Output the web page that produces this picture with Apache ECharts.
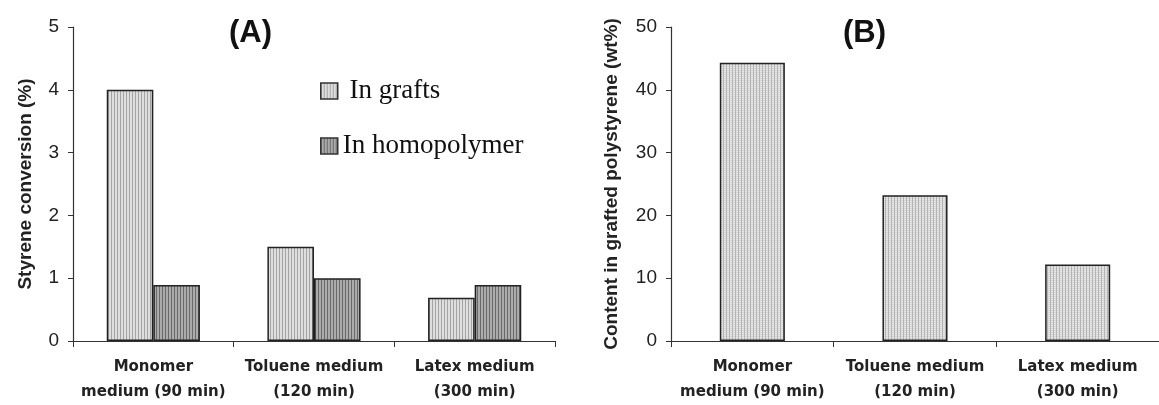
<!DOCTYPE html>
<html>
<head>
<meta charset="utf-8">
<script src="https://cdn.jsdelivr.net/npm/echarts@6/dist/echarts.min.js"></script>
<style>
html,body{margin:0;padding:0;background:#fff;}
#chart{width:1159px;height:405px;}
</style>
</head>
<body>
<div id="chart"></div>
<script>
// ---- data ----
const categories = ['Monomer\nmedium (90 min)', 'Toluene medium\n(120 min)', 'Latex medium\n(300 min)'];
const seriesNames = ['In grafts', 'In homopolymer'];
const graftsConversion = [4.0, 1.5, 0.69];
const homopolymerConversion = [0.89, 1.0, 0.89];
const graftedContent = [44.3, 23.2, 12.2];
const yTicksA = [0, 1, 2, 3, 4, 5];
const yTicksB = [0, 10, 20, 30, 40, 50];
const titles = ['(A)', '(B)'];
const yNames = ['Styrene conversion (%)', 'Content in grafted polystyrene (wt%)'];

// ---- fill patterns (style only) ----
function stripePattern(base, line, period, hline) {
  const c = document.createElement('canvas');
  c.width = period; c.height = 2;
  const ctx = c.getContext('2d');
  ctx.fillStyle = base; ctx.fillRect(0, 0, period, 2);
  ctx.fillStyle = line; ctx.fillRect(0, 0, 1, 2);
  if (hline) { ctx.fillStyle = hline; ctx.fillRect(1, 0, period - 1, 1); }
  return { image: c, repeat: 'repeat' };
}
const patGraft = stripePattern('#dedede', '#a4a4a4', 3);
const patHomo = stripePattern('#ababab', '#6a6a6a', 3);
const patContent = stripePattern('#e6e6e6', '#b4b4b4', 3, '#d6d6d6');

const sans = 'Liberation Sans';
const axisColor = '#333';

function xAxis(gridIndex) {
  return {
    type: 'category', gridIndex, data: categories,
    axisLine: { lineStyle: { color: axisColor, width: 1.2 } },
    axisTick: { show: true, length: 6, lineStyle: { color: axisColor } },
    axisLabel: {
      color: '#222', fontFamily: 'DejaVu Sans', fontWeight: 'bold', fontSize: 15,
      lineHeight: 25, margin: 14, interval: 0
    }
  };
}
function yAxis(gridIndex, max, interval, name, nameGap) {
  return {
    type: 'value', gridIndex, min: 0, max, interval,
    name, nameLocation: 'middle', nameGap,
    nameTextStyle: { fontFamily: sans, fontWeight: 'bold', fontSize: 19, color: '#222' },
    splitLine: { show: false },
    axisLine: { show: true, lineStyle: { color: axisColor, width: 1.2 } },
    axisTick: { show: true, length: 5, lineStyle: { color: axisColor } },
    axisLabel: { fontFamily: sans, fontSize: 19, color: '#222', margin: 14 }
  };
}

const chart = echarts.init(document.getElementById('chart'), null, { renderer: 'canvas' });
chart.setOption({
  animation: false,
  backgroundColor: '#fff',
  title: [
    { text: titles[0], left: 229, top: 17, padding: 0,
      textStyle: { fontFamily: sans, fontWeight: 'bold', fontSize: 31, color: '#111', lineHeight: 32 } },
    { text: titles[1], left: 843, top: 17, padding: 0,
      textStyle: { fontFamily: sans, fontWeight: 'bold', fontSize: 31, color: '#111', lineHeight: 32 } }
  ],
  legend: {
    data: seriesNames, orient: 'vertical', left: 320, top: 76, padding: 0,
    itemWidth: 17, itemHeight: 16, itemGap: 25, icon: 'rect',
    itemStyle: { borderColor: '#333', borderWidth: 1.5 },
    formatter: n => (n === seriesNames[0] ? ' ' + n : n),
    textStyle: { fontFamily: 'Liberation Serif', fontSize: 27, color: '#111', lineHeight: 30 }
  },
  grid: [
    { left: 73, top: 27, width: 482, height: 317 },
    { left: 671, top: 27, width: 495, height: 317 }
  ],
  xAxis: [xAxis(0), xAxis(1)],
  yAxis: [yAxis(0, 5, 1, yNames[0], 38), yAxis(1, 50, 10, yNames[1], 50)],
  series: [
    { name: seriesNames[0], type: 'bar', xAxisIndex: 0, yAxisIndex: 0, data: graftsConversion,
      barGap: '0%', barCategoryGap: '42%',
      itemStyle: { color: patGraft, borderColor: '#222', borderWidth: 1.5 } },
    { name: seriesNames[1], type: 'bar', xAxisIndex: 0, yAxisIndex: 0, data: homopolymerConversion,
      barGap: '0%', barCategoryGap: '42%',
      itemStyle: { color: patHomo, borderColor: '#222', borderWidth: 1.5 } },
    { name: 'Content', type: 'bar', xAxisIndex: 1, yAxisIndex: 1, data: graftedContent,
      barCategoryGap: '60%',
      itemStyle: { color: patContent, borderColor: '#222', borderWidth: 1.5 } }
  ]
});
</script>
</body>
</html>
